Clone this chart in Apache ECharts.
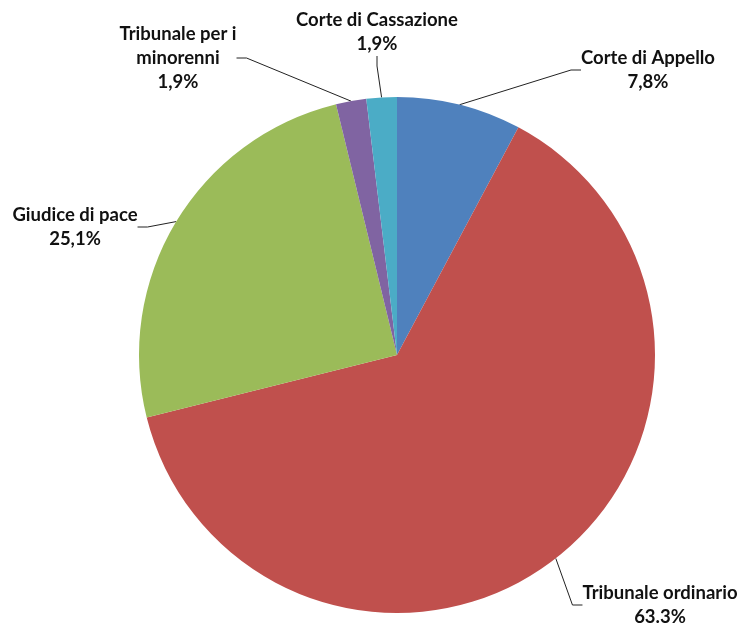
<!DOCTYPE html>
<html><head><meta charset="utf-8">
<script src="https://cdn.jsdelivr.net/npm/echarts@6/dist/echarts.min.js"></script>
<style>html,body{margin:0;padding:0;background:#fff;}#c{width:744px;height:625px;}</style>
</head><body><div id="c"></div>
<script>
var categories = ['Corte di Appello', 'Tribunale ordinario', 'Giudice di pace', 'Tribunale per i\nminorenni', 'Corte di Cassazione'];
var values = [7.8, 63.3, 25.1, 1.9, 1.9];
var valueLabels = ['7,8%', '63.3%', '25,1%', '1,9%', '1,9%'];
var colors = ['#4F81BD', '#C0504D', '#9BBB59', '#8064A2', '#4BACC6'];
var labelPos = [[648, 70], [660, 605], [75, 227], [178, 58], [377, 32]];

var chart = echarts.init(document.getElementById('c'));
chart.setOption({
  animation: false,
  backgroundColor: '#fff',
  series: [{
    type: 'pie',
    center: [397, 355],
    radius: 258,
    startAngle: 90,
    clockwise: true,
    data: categories.map(function (n, i) {
      return { name: n, value: values[i], itemStyle: { color: colors[i] } };
    }),
    itemStyle: { borderWidth: 0 },
    label: {
      show: true,
      position: 'outside',
      formatter: function (p) { return p.name + '\n' + valueLabels[p.dataIndex]; },
      fontFamily: 'Lato',
      fontWeight: 'bold',
      fontSize: 18.5,
      lineHeight: 24,
      color: '#111',
      align: 'center'
    },
    labelLine: { show: true, length: 10, length2: 10, lineStyle: { color: '#222', width: 1 } },
    labelLayout: function (p) {
      var pos = labelPos[p.dataIndex];
      return { x: pos[0], y: pos[1], align: 'center', verticalAlign: 'middle' };
    }
  }]
});
</script></body></html>
